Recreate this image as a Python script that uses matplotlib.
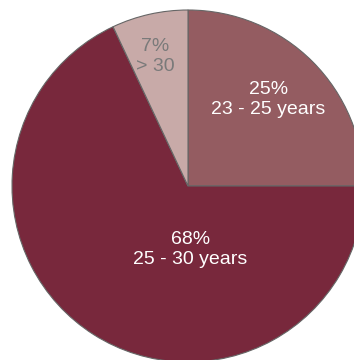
import numpy as np
import matplotlib.pyplot as plt

labels = ["23 - 25 years", "25 - 30 years", "> 30"]
shares = [25, 68, 7]
colors = ["#945c61", "#78283c", "#c8aaa8"]
text_colors = ["white", "white", "#7a7a7a"]
# label position as (fraction of radius, angle in degrees)
label_pos = [(0.67, 47), (0.36, -88), (0.76, 104.3)]

plt.rcParams["font.family"] = ["Liberation Sans", "DejaVu Sans"]

fig = plt.figure(figsize=(3.54, 3.60), dpi=100)
ax = fig.add_axes([0, 0, 1, 1])

cx, cy, r = 188, 174, 176
ax.pie(
    shares,
    colors=colors,
    startangle=90,
    counterclock=False,
    center=(cx, cy),
    radius=r,
    wedgeprops={"edgecolor": "#666666", "linewidth": 0.8},
)

for lab, val, tc, (f, ang) in zip(labels, shares, text_colors, label_pos):
    x = cx + f * r * np.cos(np.radians(ang))
    y = cy + f * r * np.sin(np.radians(ang))
    ax.text(x, y, f"{val}%\n{lab}", color=tc, ha="center", va="center",
            fontsize=14, linespacing=1.2)

ax.set_xlim(0, 354)
ax.set_ylim(0, 360)
ax.set_aspect("equal")
ax.axis("off")

fig.savefig("out.png", dpi=100)
